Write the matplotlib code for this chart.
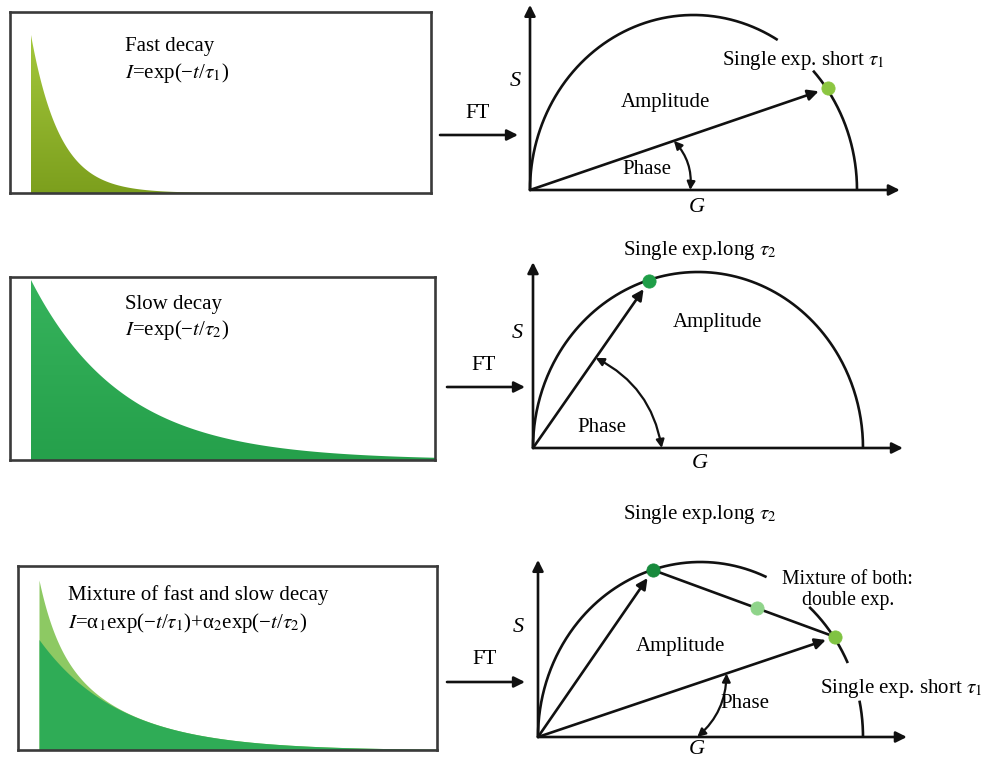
import numpy as np
import matplotlib
matplotlib.use("Agg")
import matplotlib.pyplot as plt
from matplotlib.patches import FancyArrowPatch, Polygon
from matplotlib.colors import LinearSegmentedColormap

plt.rcParams['font.family'] = ['Liberation Serif', 'DejaVu Serif']
plt.rcParams['mathtext.fontset'] = 'stix'

W, H = 984, 761
fig = plt.figure(figsize=(W / 100, H / 100), dpi=100)

# ---- decay curves (time in ns) ----
tau_fast = 0.72          # fast single exponential
tau_slow = 2.3           # slow single exponential
tau_fast_mix = 0.45      # fast component of the mixture
tau_slow_mix = 2.0       # slow component of the mixture
alpha_fast = 0.35        # amplitude fractions of the mixture
alpha_slow = 0.65

# ---- phasor coordinates (G, S) ----
fast_point = (0.911, 0.291)
slow_point = (0.352, 0.474)
mix_long_point = (0.354, 0.477)
mix_short_point = (0.914, 0.286)
mix_fraction = 0.57      # position of the double-exponential point along the chord

# ---- arc segments of the universal semicircle (degrees) ----
arc_top = [(180, 59), (43, 0)]
arc_mid = [(180, 0)]
arc_bot = [(180, 66), (48, 25), (12, 0)]

PX_PER_NS = 40.0
LINE = '#111111'
BOX = '#3a3a3a'


def px_axes(x0, y0, x1, y1):
    return fig.add_axes([x0 / W, 1 - y1 / H, (x1 - x0) / W, (y1 - y0) / H])


def gradient_fill(ax, t, y, c_top, c_bottom, ymax):
    verts = np.column_stack([np.r_[t, t[::-1]], np.r_[y, np.zeros_like(y)]])
    patch = Polygon(verts, closed=True, facecolor='none', edgecolor='none')
    ax.add_patch(patch)
    cmap = LinearSegmentedColormap.from_list('g', [c_bottom, c_top])
    grad = np.linspace(0, 1, 256).reshape(-1, 1)
    im = ax.imshow(grad, extent=[t[0], t[-1], 0, ymax], origin='lower',
                   aspect='auto', cmap=cmap, zorder=2, interpolation='bilinear')
    im.set_clip_path(patch)


def decay_box(x0, y0, x1, y1, x_start, y_peak):
    ax = px_axes(x0, y0, x1, y1)
    xmin = -(x_start - x0) / PX_PER_NS
    xmax = (x1 - x_start) / PX_PER_NS
    ytop = (y1 - y0) / (y1 - y_peak)
    for s in ax.spines.values():
        s.set_linewidth(1.9)
        s.set_color(BOX)
        s.set_zorder(5)
    ax.set_xticks([])
    ax.set_yticks([])
    return ax, xmin, xmax, ytop


# fast decay
ax1, xmin, xmax, ytop = decay_box(10, 12, 431, 193, 31, 35)
t = np.linspace(0, xmax, 800)
gradient_fill(ax1, t, np.exp(-t / tau_fast), '#a4c83c', '#7c9f1d', 1.0)
ax1.set_xlim(xmin, xmax)
ax1.set_ylim(0, ytop)

# slow decay
ax2, xmin, xmax, ytop = decay_box(10, 277, 435, 460, 31, 280)
t = np.linspace(0, xmax, 800)
gradient_fill(ax2, t, np.exp(-t / tau_slow), '#36b35c', '#25a04b', 1.0)
ax2.set_xlim(xmin, xmax)
ax2.set_ylim(0, ytop)

# mixture of both
ax3, xmin, xmax, ytop = decay_box(18, 566, 437, 750, 39, 580)
t = np.linspace(0, xmax, 800)
slow_part = alpha_slow * np.exp(-t / tau_slow_mix)
total = slow_part + alpha_fast * np.exp(-t / tau_fast_mix)
ax3.fill_between(t, 0, total, color='#8dc963', lw=0, zorder=2)
ax3.fill_between(t, 0, slow_part, color='#2fac56', lw=0, zorder=3)
ax3.set_xlim(xmin, xmax)
ax3.set_ylim(0, ytop)


# ---- phasor plots ----
G_LO, G_HI, S_LO, S_HI = -0.1, 1.25, -0.1, 0.62


def phasor_axes(ox, oy, gs, ss, g_end, s_end, arcs):
    ax = px_axes(ox + G_LO * gs, oy - S_HI * ss, ox + G_HI * gs, oy - S_LO * ss)
    ax.set_xlim(G_LO, G_HI)
    ax.set_ylim(S_LO, S_HI)
    ax.axis('off')
    ax.patch.set_alpha(0)
    ap = dict(arrowstyle='-|>', lw=1.9, color=LINE, mutation_scale=16,
              shrinkA=0, shrinkB=0)
    ax.annotate('', xy=(g_end, 0), xytext=(0, 0), arrowprops=ap)
    ax.annotate('', xy=(0, s_end), xytext=(0, 0), arrowprops=ap)
    for a0, a1 in arcs:
        th = np.radians(np.linspace(a0, a1, 300))
        ax.plot(0.5 + 0.5 * np.cos(th), 0.5 * np.sin(th), color=LINE, lw=1.9,
                solid_capstyle='butt')
    return ax


def amplitude(ax, pt):
    ax.annotate('', xy=pt, xytext=(0, 0),
                arrowprops=dict(arrowstyle='-|>', lw=1.9, color=LINE,
                                mutation_scale=16, shrinkA=0, shrinkB=7))


def phase(ax, pa, pb, rad):
    ax.add_patch(FancyArrowPatch(pa, pb, arrowstyle='<|-|>',
                                 connectionstyle=f'arc3,rad={rad}',
                                 mutation_scale=12, lw=1.6, color=LINE,
                                 shrinkA=0, shrinkB=0))


def dot(ax, pt, color):
    ax.plot(*pt, 'o', ms=9.5, mfc=color, mec=color, mew=0.6, zorder=6)


# top: short lifetime
p1 = phasor_axes(530, 190, 327, 350, 1.131, 0.529, arc_top)
amplitude(p1, fast_point)
phase(p1, (0.44, 0.44 * fast_point[1] / fast_point[0]), (0.49, 0.0), -0.22)
dot(p1, fast_point, '#8cc641')

# middle: long lifetime
p2 = phasor_axes(533, 448, 330, 352, 1.121, 0.528, arc_mid)
amplitude(p2, slow_point)
phase(p2, (0.19, 0.19 * slow_point[1] / slow_point[0]), (0.39, 0.0), -0.25)
dot(p2, slow_point, '#1f9e48')

# bottom: mixture
p3 = phasor_axes(538, 737, 325, 350, 1.135, 0.506, arc_bot)
amplitude(p3, mix_long_point)
amplitude(p3, mix_short_point)
p3.plot([mix_long_point[0], mix_short_point[0]],
        [mix_long_point[1], mix_short_point[1]], color=LINE, lw=1.9, zorder=4)
phase(p3, (0.58, 0.58 * mix_short_point[1] / mix_short_point[0]), (0.49, 0.0), -0.22)
mix_point = (mix_long_point[0] + mix_fraction * (mix_short_point[0] - mix_long_point[0]),
             mix_long_point[1] + mix_fraction * (mix_short_point[1] - mix_long_point[1]))
dot(p3, mix_long_point, '#178a3c')
dot(p3, mix_point, '#8fd48a')
dot(p3, mix_short_point, '#80c342')


# ---- text and FT arrows ----
ov = fig.add_axes([0, 0, 1, 1])
ov.set_xlim(0, W)
ov.set_ylim(H, 0)
ov.axis('off')
ov.patch.set_alpha(0)

FS = 15
ft_ap = dict(arrowstyle='-|>', lw=1.9, color=LINE, mutation_scale=16,
             shrinkA=0, shrinkB=0)
for x0, x1, y, xt in [(440, 518, 135, 478), (447, 525, 387, 484), (447, 525, 682, 485)]:
    ov.annotate('', xy=(x1, y), xytext=(x0, y), arrowprops=ft_ap)
    ov.text(xt, y - 22, 'FT', fontsize=FS, ha='center', va='center')

# decay labels
ov.text(125, 47, 'Fast decay', fontsize=FS, ha='left', va='center')
ov.text(125, 73, r'$I$=exp(−$t$/$\tau_1$)', fontsize=FS, ha='left', va='center')
ov.text(125, 305, 'Slow decay', fontsize=FS, ha='left', va='center')
ov.text(125, 330, r'$I$=exp(−$t$/$\tau_2$)', fontsize=FS, ha='left', va='center')
ov.text(68, 595, 'Mixture of fast and slow decay', fontsize=FS, ha='left', va='center')
ov.text(68, 623, r'$I$=α$_1$exp(−$t$/$\tau_1$)+α$_2$exp(−$t$/$\tau_2$)',
        fontsize=FS, ha='left', va='center')


# phasor labels
def axis_labels(sx, sy, gx, gy):
    ov.text(sx, sy, 'S', fontsize=16, style='italic', ha='center', va='center')
    ov.text(gx, gy, 'G', fontsize=16, style='italic', ha='center', va='center')


axis_labels(515, 82, 697, 208)
axis_labels(517, 333, 700, 464)
axis_labels(518, 628, 697, 750)

ov.text(803, 60, r'Single exp. short $\tau_1$', fontsize=FS, ha='center', va='center')
ov.text(665, 102, 'Amplitude', fontsize=FS, ha='center', va='center')
ov.text(647, 170, 'Phase', fontsize=FS, ha='center', va='center')

ov.text(700, 250, r'Single exp.long $\tau_2$', fontsize=FS, ha='center', va='center')
ov.text(717, 322, 'Amplitude', fontsize=FS, ha='center', va='center')
ov.text(602, 428, 'Phase', fontsize=FS, ha='center', va='center')

ov.text(700, 515, r'Single exp.long $\tau_2$', fontsize=FS, ha='center', va='center')
ov.text(847, 580, 'Mixture of both:', fontsize=14.2, ha='center', va='center')
ov.text(848, 601, 'double exp.', fontsize=14.2, ha='center', va='center')
ov.text(680, 647, 'Amplitude', fontsize=FS, ha='center', va='center')
ov.text(901, 688, r'Single exp. short $\tau_1$', fontsize=FS, ha='center', va='center')
ov.text(745, 703, 'Phase', fontsize=FS, ha='center', va='center')

fig.savefig('out.png', dpi=100)
